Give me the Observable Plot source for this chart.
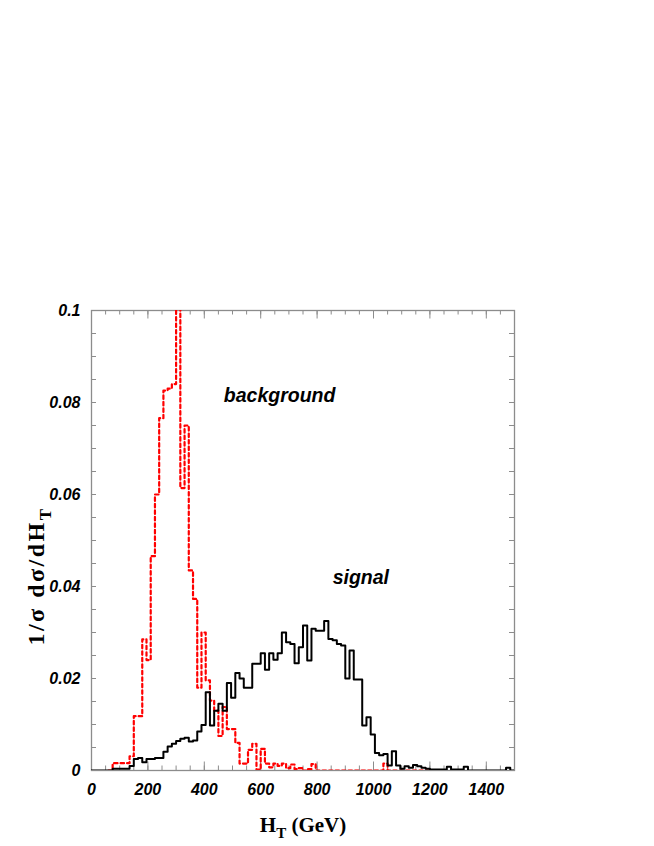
<!DOCTYPE html>
<html><head><meta charset="utf-8">
<script src="https://cdn.jsdelivr.net/npm/d3@7"></script>
<script src="https://cdn.jsdelivr.net/npm/@observablehq/plot@0.6"></script>
<style>body{margin:0;background:#fff}</style>
</head><body><div id="chart"></div>
<script>
// Histogram bins: 15 GeV wide, 0..1500 GeV
const binWidth = 15;
const signal = [
  0, 0, 0, 0, 0, 0.0004, 0.0004, 0.0004, 0.0004, 0.001,
  0.0025, 0.0027, 0.0018, 0.0025, 0.0025, 0.0027, 0.0027, 0.0041, 0.0052, 0.0058,
  0.0064, 0.0069, 0.0071, 0.0063, 0.0065, 0.0085, 0.0099, 0.017, 0.0098, 0.013,
  0.0145, 0.013, 0.019, 0.0158, 0.0212, 0.020, 0.018, 0.018, 0.0232, 0.0232,
  0.0255, 0.0219, 0.0255, 0.0241, 0.0255, 0.030, 0.0279, 0.0275, 0.0233, 0.0268,
  0.0315, 0.0239, 0.0308, 0.0304, 0.0304, 0.0325, 0.0286, 0.0283, 0.0275, 0.0272,
  0.020, 0.0261, 0.0198, 0.0198, 0.0098, 0.0116, 0.0078, 0.0038, 0.0033, 0.0036,
  0.0011, 0.0042, 0.0011, 0.0004, 0.0009, 0.0006, 0.0012, 0.0009, 0.0006, 0.0004,
  0.0002, 0.0002, 0.0002, 0.0002, 0.0008, 0.0002, 0.0002, 0.0002, 0.0008, 0,
  0, 0, 0, 0, 0, 0, 0, 0, 0.0006, 0
];
const background = [
  0, 0, 0, 0, 0, 0.0016, 0.0016, 0.0016, 0.0016, 0.0031,
  0.0118, 0.0118, 0.0285, 0.024, 0.0466, 0.060, 0.0766, 0.0826, 0.083, 0.084,
  0.12, 0.0614, 0.075, 0.0435, 0.0373, 0.018, 0.030, 0.0196, 0.0152, 0.013,
  0.0075, 0.0138, 0.009, 0.009, 0.006, 0.0015, 0.0015, 0.0045, 0.0058, 0.0002,
  0.0047, 0.0015, 0.0007, 0.0015, 0.001, 0.0015, 0.0005, 0.0013, 0.0003, 0.0005,
  0, 0.0003, 0.0014, 0, 0, 0, 0, 0, 0, 0,
  0, 0, 0, 0, 0, 0, 0, 0, 0, 0.0015,
  0, 0, 0, 0, 0, 0, 0, 0, 0, 0,
  0, 0
];
const bgFirstBin = 4;
const xTicks = [0, 200, 400, 600, 800, 1000, 1200, 1400];
const yTicks = [0, 0.02, 0.04, 0.06, 0.08, 0.1];
const yTickLabels = ["0", "0.02", "0.04", "0.06", "0.08", "0.1"];
const xMinor = d3.range(0, 1501, 50);
const yMinor = d3.range(0, 21).map(i => i * 0.005);
const annotations = [
  {text: "background", x: 667, y: 0.0815},
  {text: "signal", x: 955, y: 0.0418}
];

function toSteps(vals, from) {
  const pts = [];
  for (let i = from; i < vals.length; i++) pts.push({x: i * binWidth, y: vals[i]});
  pts.push({x: vals.length * binWidth, y: vals[vals.length - 1]});
  return pts;
}

const W = 654, H = 846, mL = 91, mR = 140, mT = 310, mB = 76;
const plotW = W - mL - mR, plotH = H - mT - mB;
const gray = "#8c8c8c";
const tickFont = {fontFamily: "'Liberation Sans', Arial, sans-serif", fontSize: 16, fontWeight: "bold", fontStyle: "italic", fill: "black"};

const chart = Plot.plot({
  width: W, height: H,
  marginLeft: mL, marginRight: mR, marginTop: mT, marginBottom: mB,
  x: {domain: [0, 1500]},
  y: {domain: [0, 0.1]},
  style: {background: "white"},
  marks: [
    // inward ticks
    Plot.tickX(xMinor, {x: d => d, stroke: gray, insetTop: plotH - 4.5}),
    Plot.tickX(xMinor.filter(d => d % 200 === 0), {x: d => d, stroke: gray, insetTop: plotH - 8.5}),
    Plot.tickX(xMinor, {x: d => d, stroke: gray, insetBottom: plotH - 4.5}),
    Plot.tickX(xMinor.filter(d => d % 200 === 0), {x: d => d, stroke: gray, insetBottom: plotH - 8.5}),
    Plot.tickY(yMinor, {y: d => d, stroke: gray, insetRight: plotW - 5}),
    Plot.tickY(yMinor, {y: d => d, stroke: gray, insetLeft: plotW - 5}),
    Plot.frame({stroke: gray, strokeWidth: 1.3}),
    Plot.line(toSteps(background, bgFirstBin), {x: "x", y: "y", curve: "step-after", stroke: "#ff0000", strokeWidth: 2.2, strokeDasharray: "3.5,3", clip: true}),
    Plot.line(toSteps(signal, 0), {x: "x", y: "y", curve: "step-after", stroke: "black", strokeWidth: 2, clip: true}),
    Plot.axisX(xTicks, {anchor: "bottom", tickSize: 0, tickPadding: 13, tickFormat: d => String(d), ...tickFont, label: null}),
    Plot.axisY(yTicks, {anchor: "left", tickSize: 0, tickPadding: 11, tickFormat: d => yTickLabels[yTicks.indexOf(d)], ...tickFont, label: null}),
    Plot.text(annotations, {x: "x", y: "y", text: "text", fontFamily: "'Liberation Sans', Arial, sans-serif", fontSize: 19.5, fontWeight: "bold", fontStyle: "italic", fill: "black"})
  ]
});

const svg = d3.select(chart);
const serif = "'Liberation Serif', 'Times New Roman', serif";
// y-axis title
const yt = svg.append("text")
  .attr("transform", "translate(44,576) rotate(-90)")
  .attr("text-anchor", "middle")
  .attr("letter-spacing", 2.5)
  .attr("font-family", serif).attr("font-size", 24).attr("font-weight", "bold").attr("fill", "black");
yt.append("tspan").text("1/σ dσ/dH");
yt.append("tspan").attr("font-size", 17).attr("dy", 7).text("T");
// x-axis title
const xt = svg.append("text")
  .attr("x", 303).attr("y", 832)
  .attr("text-anchor", "middle")
  .attr("font-family", serif).attr("font-size", 21).attr("font-weight", "bold").attr("fill", "black");
xt.append("tspan").text("H");
xt.append("tspan").attr("font-size", 15).attr("dy", 6).text("T");
xt.append("tspan").attr("dy", -6).text(" (GeV)");

document.getElementById("chart").appendChild(chart);
</script>
</body></html>
